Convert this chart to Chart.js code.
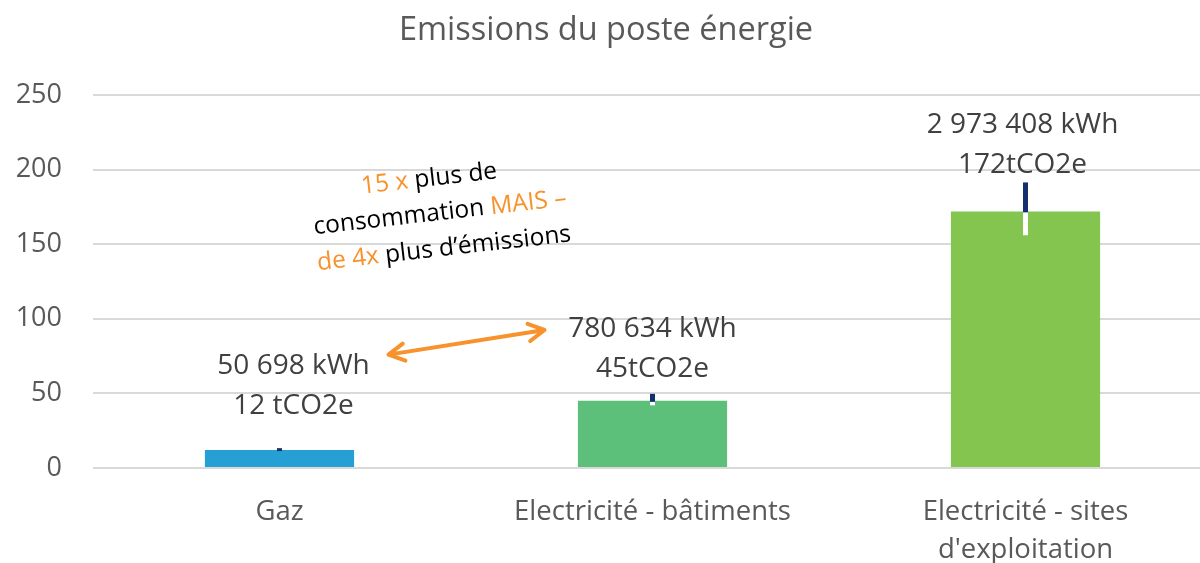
<!DOCTYPE html>
<html>
<head>
<meta charset="utf-8">
<script src="https://cdn.jsdelivr.net/npm/chart.js@4/dist/chart.umd.min.js"></script>
<style>
  html, body { margin: 0; padding: 0; background: #fff; overflow: hidden; }
  #wrap { width: 1220px; height: 563px; }
</style>
</head>
<body>
<div id="wrap"><canvas id="energyChart"></canvas></div>
<script>
var categories = ['Gaz', 'Electricité - bâtiments', ['Electricité - sites', "d'exploitation"]];
var emissions = [12, 45, 172];
var errorUp = [1.3, 4.7, 19.4];
var errorDown = [0, 3, 16];
var consumptionLabels = ['50 698 kWh', '780 634 kWh', '2 973 408 kWh'];
var emissionLabels = ['12 tCO2e', '45tCO2e', '172tCO2e'];
var yTicks = [0, 50, 100, 150, 200, 250];

var barColors = ['#259FD4', '#5CBF7A', '#84C550'];
var fontFamily = "'Open Sans', sans-serif";

// manual nudges of the value labels (Excel labels were dragged by hand)
var labelShift = [[14, -44], [0, -32], [-3, -46]];

var extrasPlugin = {
    id: 'extras',
    afterDatasetsDraw: function (chart) {
        var ctx = chart.ctx;
        var y = chart.scales.y;
        var meta = chart.getDatasetMeta(0);

        // error bars
        meta.data.forEach(function (bar, i) {
            var top = y.getPixelForValue(emissions[i] + errorUp[i]);
            var mid = y.getPixelForValue(emissions[i]);
            var low = y.getPixelForValue(emissions[i] - errorDown[i]);
            ctx.save();
            ctx.lineWidth = 5;
            ctx.strokeStyle = '#FFFFFF';
            ctx.beginPath();
            ctx.moveTo(bar.x, mid);
            ctx.lineTo(bar.x, low);
            ctx.stroke();
            ctx.strokeStyle = '#14306E';
            ctx.beginPath();
            ctx.moveTo(bar.x, top);
            ctx.lineTo(bar.x, mid + 1);
            ctx.stroke();
            ctx.restore();
        });

        // value labels
        ctx.save();
        ctx.font = '28px ' + fontFamily;
        ctx.fillStyle = '#404040';
        ctx.textAlign = 'center';
        ctx.textBaseline = 'middle';
        meta.data.forEach(function (bar, i) {
            var lx = bar.x + labelShift[i][0];
            var ly = bar.y + labelShift[i][1];
            ctx.fillText(consumptionLabels[i], lx, ly - 40);
            ctx.fillText(emissionLabels[i], lx, ly);
        });
        ctx.restore();

        // arrow between gaz and batiments
        var x0 = meta.data[0].x + 109, y0 = y.getPixelForValue(76);
        var x1 = meta.data[1].x - 108, y1 = y.getPixelForValue(92.5);
        var ang = Math.atan2(y1 - y0, x1 - x0);
        ctx.save();
        ctx.strokeStyle = '#F7922D';
        ctx.lineWidth = 4;
        ctx.lineCap = 'round';
        ctx.lineJoin = 'round';
        ctx.beginPath();
        ctx.moveTo(x0, y0);
        ctx.lineTo(x1, y1);
        [[x0, y0, ang + Math.PI], [x1, y1, ang]].forEach(function (p) {
            ctx.moveTo(p[0] - 18 * Math.cos(p[2] - 0.5), p[1] - 18 * Math.sin(p[2] - 0.5));
            ctx.lineTo(p[0], p[1]);
            ctx.lineTo(p[0] - 18 * Math.cos(p[2] + 0.5), p[1] - 18 * Math.sin(p[2] + 0.5));
        });
        ctx.stroke();
        ctx.restore();

        // rotated comment
        var lines = [
            [['15 x ', '#F7922D'], ['plus de', '#000000']],
            [['consommation ', '#000000'], ['MAIS –', '#F7922D']],
            [['de 4x ', '#F7922D'], ['plus d’émissions', '#000000']]
        ];
        var offs = [[-7, -35], [0, 0], [0, 36]];
        ctx.save();
        ctx.translate(440, 213);
        ctx.rotate(-6.5 * Math.PI / 180);
        ctx.font = '24.5px ' + fontFamily;
        ctx.textBaseline = 'middle';
        lines.forEach(function (line, k) {
            var w = 0;
            line.forEach(function (s) { w += ctx.measureText(s[0]).width; });
            var x = -w / 2 + offs[k][0];
            line.forEach(function (s) {
                ctx.fillStyle = s[1];
                ctx.textAlign = 'left';
                ctx.fillText(s[0], x, offs[k][1]);
                x += ctx.measureText(s[0]).width;
            });
        });
        ctx.restore();
    }
};

var ctx = document.getElementById('energyChart').getContext('2d');
var energyChart = new Chart(ctx, {
    type: 'bar',
    data: {
        labels: categories,
        datasets: [{
            label: 'Emissions',
            data: emissions,
            backgroundColor: barColors,
            barPercentage: 0.4,
            categoryPercentage: 1
        }]
    },
    options: {
        responsive: true,
        maintainAspectRatio: false,
        animation: false,
        layout: { padding: { right: 8 } },
        plugins: {
            legend: { display: false },
            tooltip: { enabled: false },
            title: {
                display: true,
                text: 'Emissions du poste énergie',
                color: '#595959',
                font: { family: fontFamily, size: 32.5, weight: 'normal' },
                padding: { top: 11, bottom: 45 }
            }
        },
        scales: {
            x: {
                grid: { display: false },
                border: { display: false },
                ticks: {
                    color: '#595959',
                    font: { family: fontFamily, size: 27.5, lineHeight: 1.35 },
                    padding: 18,
                    maxRotation: 0
                },
                afterFit: function (scale) { scale.height = 95; }
            },
            y: {
                min: 0,
                max: 250,
                afterBuildTicks: function (scale) {
                    scale.ticks = yTicks.map(function (v) { return { value: v }; });
                },
                grid: { color: '#D9D9D9', lineWidth: 2, drawTicks: false },
                border: { display: false },
                ticks: {
                    color: '#595959',
                    font: { family: fontFamily, size: 27 },
                    padding: 31
                },
                afterFit: function (scale) { scale.width = 93; }
            }
        }
    },
    plugins: [extrasPlugin]
});
</script>
</body>
</html>
